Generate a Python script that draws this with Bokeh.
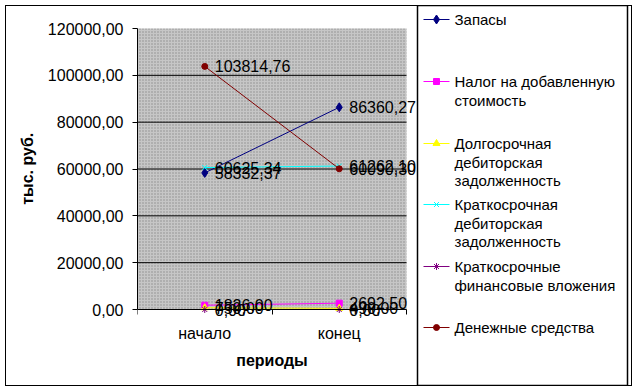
from bokeh.plotting import figure
from bokeh.models import (Range1d, FixedTicker, CustomJSTickFormatter, ColumnDataSource, LabelSet)
from bokeh.core.properties import value
from bokeh.embed import file_html
from bokeh.resources import INLINE

# ---- data ----
periods = ["начало", "конец"]
zapasy = [58332.37, 86360.27]
nds = [1826.00, 2692.50]
long_recv = [750.00, 490.00]
short_recv = [60625.34, 61262.10]
fin_inv = [0.00, 0.00]
cash = [103814.76, 60090.30]
y_ticks = [0, 20000, 40000, 60000, 80000, 100000, 120000]
legend_labels = [
    ["Запасы"],
    ["Налог на добавленную", "стоимость"],
    ["Долгосрочная", "дебиторская", "задолженность"],
    ["Краткосрочная", "дебиторская", "задолженность"],
    ["Краткосрочные", "финансовые вложения"],
    ["Денежные средства"],
]
x_title = "периоды"
y_title = "тыс. руб."

# ---- layout constants (pixels) ----
W, H = 637, 391
FL, FR, FT, FB = 137, 631, 5, 385        # frame (drawing area)
PL, PR, PT, PB = 137, 406, 28, 309       # grey plot area
FONT = "Liberation Sans"
FS = "16px"

n = len(periods)
units_per_px = (y_ticks[-1] - y_ticks[0]) / (PB - PT)
y_lo = y_ticks[0] - (FB - PB) * units_per_px
y_hi = y_ticks[-1] + (PT - FT) * units_per_px
x_end = n * (FR - FL) / (PR - PL)

p = figure(width=W, height=H, output_backend="svg", toolbar_location=None,
           x_range=Range1d(0, x_end), y_range=Range1d(y_lo, y_hi),
           min_border_left=FL, min_border_right=W - FR, min_border_top=FT, min_border_bottom=H - FB,
           styles={"outline": "1.5px solid black", "outline-offset": "-6px"})
p.extra_x_ranges = {"px": Range1d(FL, FR)}
p.extra_y_ranges = {"px": Range1d(FB, FT)}
p.background_fill_color = None
p.border_fill_color = None
p.outline_line_color = None
p.xgrid.visible = False
p.ygrid.visible = False

# grey patterned plot area and horizontal gridlines
p.quad(left=0, right=n, bottom=y_ticks[0], top=y_ticks[-1], fill_color="#c6c6c6",
       hatch_pattern="dot", hatch_color="#8c8c8c", hatch_scale=3, line_color=None)
grid_y = y_ticks[1:-1]
p.segment(x0=[0] * len(grid_y), x1=[n] * len(grid_y), y0=grid_y, y1=grid_y,
          line_color="black", line_width=1)

# y axis
ya = p.yaxis[0]
ya.bounds = (y_ticks[0], y_ticks[-1])
ya.ticker = FixedTicker(ticks=y_ticks)
ya.formatter = CustomJSTickFormatter(code="return tick.toFixed(2).replace('.', ',');")
ya.axis_line_color = "black"
ya.major_tick_line_color = "black"
ya.major_tick_out = 5
ya.major_tick_in = 0
ya.minor_tick_out = 0
ya.minor_tick_in = 0
ya.major_label_standoff = 9
ya.major_label_text_font = FONT
ya.major_label_text_font_size = FS
ya.major_label_text_color = "black"
# centre of the frame is lower than centre of the plot area: pad start with no-break spaces
ya.axis_label = "\u00a0" * 12 + y_title
ya.axis_label_text_font = FONT
ya.axis_label_text_font_size = FS
ya.axis_label_text_font_style = "bold"
ya.axis_label_text_color = "black"
ya.axis_label_standoff = 9

# x axis: drawn at value 0 with tick marks between categories; category names drawn as text
xs = [i + 0.5 for i in range(n)]
xa = p.xaxis[0]
xa.fixed_location = y_ticks[0]
xa.bounds = (0, n)
xa.ticker = FixedTicker(ticks=[], minor_ticks=list(range(n + 1)))
xa.major_label_standoff = 0
xa.axis_line_color = "black"
xa.major_tick_out = 0
xa.major_tick_in = 0
xa.minor_tick_out = 5
xa.minor_tick_in = 0
xa.minor_tick_line_color = "black"

p.text(x=xs, y=[PB + 24] * n, text=periods, y_range_name="px",
       text_font=value(FONT), text_font_size=value(FS), text_color="black",
       text_align="center", text_baseline="middle")
p.text(x=[(PL + PR) / 2], y=[360], text=[x_title], x_range_name="px", y_range_name="px",
       text_font=value(FONT), text_font_size=value(FS), text_font_style="bold",
       text_color="black", text_align="center", text_baseline="middle")

series = [
    (zapasy, "#000080", "diamond", 9),
    (nds, "#FF00FF", "square", 6),
    (long_recv, "#FFFF00", "triangle", 7),
    (short_recv, "#00FFFF", "x", 7),
    (fin_inv, "#800080", "asterisk", 7),
    (cash, "#800000", "circle", 6),
]

def fmt(v):
    return f"{v:.2f}".replace(".", ",")

for vals, color, marker, size in series:
    p.line(xs, vals, line_color=color, line_width=1)
    p.scatter(xs, vals, marker=marker, size=size, fill_color=color, line_color=color)

for vals, color, marker, size in series:
    src = ColumnDataSource(dict(x=xs, y=vals, t=[fmt(v) for v in vals]))
    p.add_layout(LabelSet(x="x", y="y", text="t", source=src, x_offset=10,
                          text_baseline="middle", text_align="left",
                          text_font=value(FONT), text_font_size=value(FS),
                          text_color="black"))

# ---- legend (pixel coordinates) ----
LEG_L, LEG_R = 417, 627
p.quad(left=[LEG_L], right=[LEG_R], top=[FT], bottom=[FB], x_range_name="px", y_range_name="px",
       fill_alpha=0, line_color="black", line_width=1.5)
entry_y = [19, 81, 143, 204, 266, 327]
line_gap = 18.7
for (vals, color, marker, size), lines, yc in zip(series, legend_labels, entry_y):
    p.segment(x0=[423], x1=[449], y0=[yc], y1=[yc], x_range_name="px", y_range_name="px",
              line_color=color, line_width=1)
    p.scatter(x=[436], y=[yc], marker=marker, size=size, fill_color=color, line_color=color,
              x_range_name="px", y_range_name="px")
    p.text(x=[454] * len(lines), y=[yc + j * line_gap for j in range(len(lines))], text=lines,
           x_range_name="px", y_range_name="px",
           text_font=value(FONT), text_font_size=value("15px"), text_color="black",
           text_align="left", text_baseline="middle")

open("out.html", "w").write(file_html(p, INLINE))
